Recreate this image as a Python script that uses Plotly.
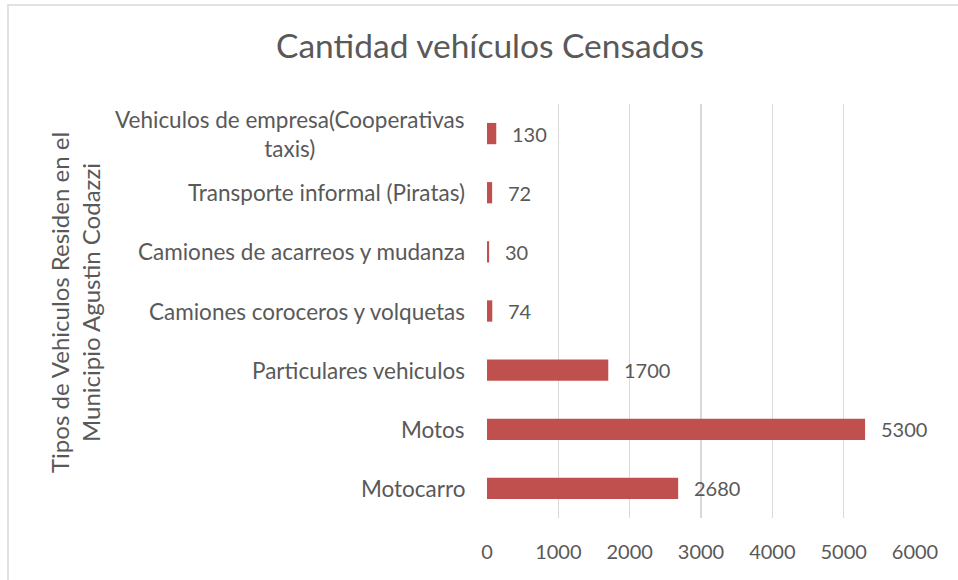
import plotly.graph_objects as go

categories = [
    "Motocarro",
    "Motos",
    "Particulares vehiculos",
    "Camiones coroceros y volquetas",
    "Camiones de acarreos y mudanza",
    "Transporte informal (Piratas)",
    "Vehiculos de empresa(Cooperativas<br>taxis)",
]
values = [2680, 5300, 1700, 74, 30, 72, 130]
x_ticks = [0, 1000, 2000, 3000, 4000, 5000, 6000]

title_text = "Cantidad vehículos Censados"
y_title = "Tipos de Vehiculos Residen en el<br>Municipio Agustin Codazzi"

FONT = "Lato"
GREY = "#595959"
BAR = "#C0504D"
GRID = "#D9D9D9"

fig = go.Figure(
    go.Bar(
        x=values,
        y=categories,
        orientation="h",
        marker=dict(color=BAR, line=dict(width=0)),
        hoverinfo="skip",
    )
)

annotations = []
for c, v in zip(categories, values):
    annotations.append(dict(
        x=v, y=c, xref="x", yref="y", text=str(v), showarrow=False,
        xanchor="left", xshift=14, font=dict(family=FONT, size=20, color=GREY),
    ))
    annotations.append(dict(
        x=0, y=c, xref="paper", yref="y", text=c, showarrow=False,
        xanchor="right", xshift=-20, align="center",
        font=dict(family=FONT, size=22.5, color=GREY),
    ))

annotations.append(dict(
    x=0, y=0.5, xref="paper", yref="paper", text=y_title, showarrow=False,
    textangle=-90, xanchor="center", yanchor="middle", align="center",
    xshift=-412, yshift=8, font=dict(family=FONT, size=24, color=GREY),
))

fig.update_layout(
    width=958,
    height=580,
    margin=dict(l=487, r=43, t=104, b=62),
    paper_bgcolor="white",
    plot_bgcolor="white",
    showlegend=False,
    bargap=0.64,
    title=dict(
        text=title_text, x=490 / 958, xref="container", xanchor="center",
        y=1 - 46 / 580, yref="container", yanchor="middle",
        font=dict(family=FONT, size=33.5, color=GREY),
    ),
    xaxis=dict(
        range=[0, 6000],
        tickvals=x_ticks,
        showgrid=True, gridcolor=GRID, gridwidth=1.4,
        zeroline=False, showline=False, ticks="",
        ticklabelstandoff=20,
        tickfont=dict(family=FONT, size=20, color=GREY),
        fixedrange=True,
    ),
    yaxis=dict(
        range=[-0.5, 6.5],
        showticklabels=False,
        showgrid=False, zeroline=False, showline=False, ticks="",
        fixedrange=True,
    ),
    annotations=annotations,
    shapes=[dict(
        type="rect", xref="paper", yref="paper",
        x0=(8 - 487) / 428, x1=(970 - 487) / 428,
        y0=(518 - 600) / 414, y1=(518 - 5) / 414,
        line=dict(color=GRID, width=1.5), fillcolor="rgba(0,0,0,0)", layer="below",
    )],
)

fig.write_html(
    "out.html",
    config={"displayModeBar": False, "staticPlot": True},
    post_script="document.body.style.margin='0';",
)
